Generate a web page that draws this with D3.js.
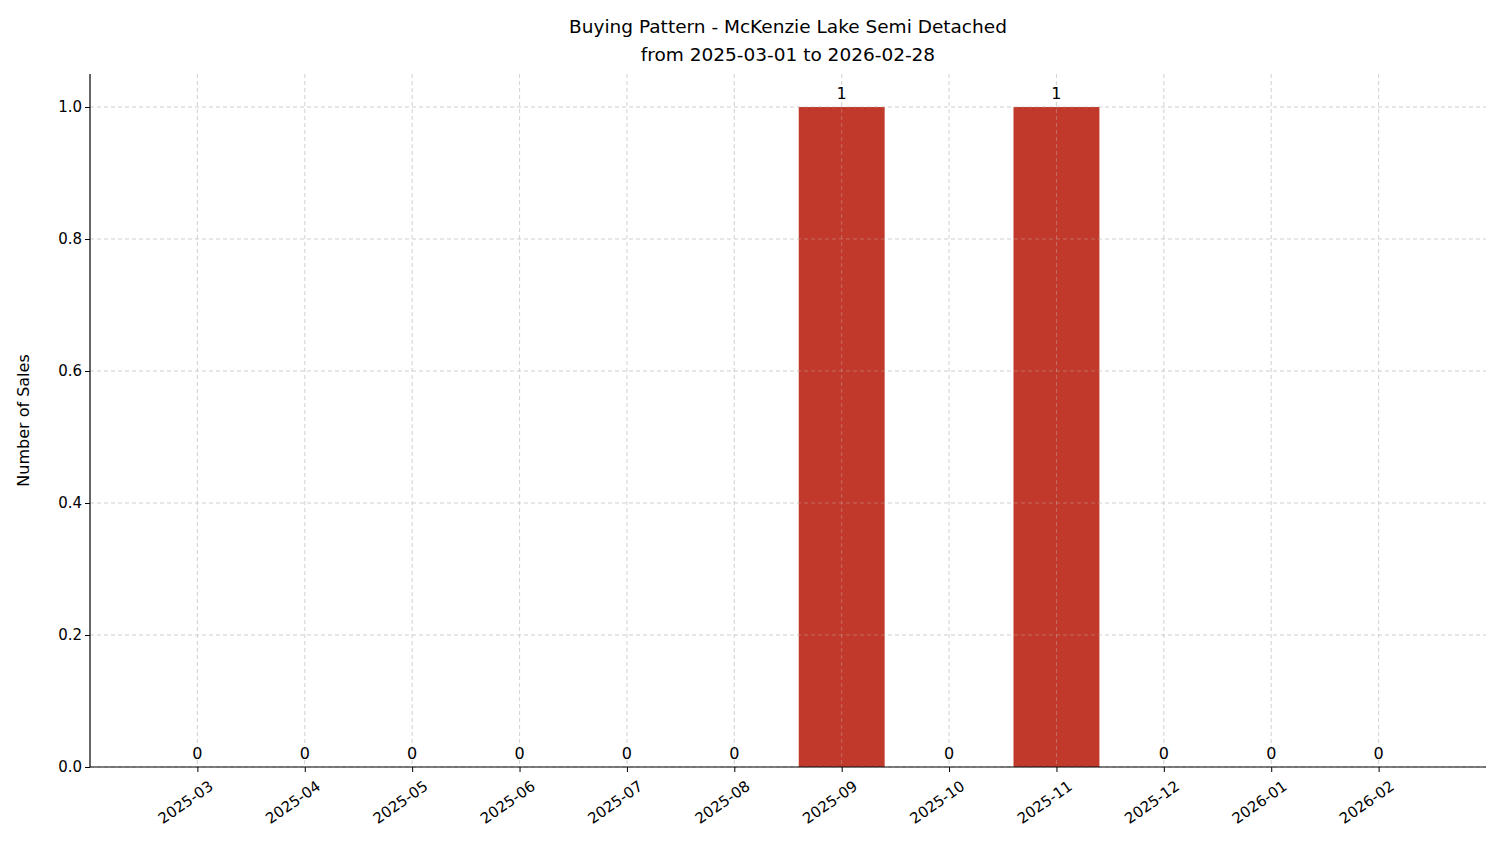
<!DOCTYPE html>
<html><head><meta charset="utf-8">
<script src="https://cdn.jsdelivr.net/npm/d3@7"></script>
<style>body{margin:0;background:#fff}text{font-family:"DejaVu Sans",sans-serif}</style>
</head><body><svg id="c" width="1501" height="863"></svg>
<script>
const months=["2025-03","2025-04","2025-05","2025-06","2025-07","2025-08","2025-09","2025-10","2025-11","2025-12","2026-01","2026-02"];
const sales=[0,0,0,0,0,0,1,0,1,0,0,0];
const yTicks=[0,0.2,0.4,0.6,0.8,1.0];
const svg=d3.select("#c");
const L=90,R=1486,T=74,B=767;
const x=d3.scaleLinear().domain([-1,months.length]).range([L,R]);
const y=d3.scaleLinear().domain([0,1.05]).range([B,T]);
const bw=(x(1)-x(0))*0.8;
const g=svg.append("g");
// grid
g.selectAll(".gx").data(months).join("line").attr("x1",(d,i)=>x(i)).attr("x2",(d,i)=>x(i)).attr("y1",T).attr("y2",B).attr("stroke","#ccc").attr("stroke-dasharray","4,3").attr("stroke-width",0.7);
g.selectAll(".gy").data(yTicks).join("line").attr("x1",L).attr("x2",R).attr("y1",d=>y(d)).attr("y2",d=>y(d)).attr("stroke","#ccc").attr("stroke-dasharray","4,3").attr("stroke-width",0.7);
g.selectAll("rect").data(sales).join("rect").attr("x",(d,i)=>x(i)-bw/2).attr("width",bw).attr("y",d=>y(d)).attr("height",d=>B-y(d)).attr("fill","#c0392b");
// redraw grid over bars like matplotlib? grid visible over bars in reference
g.selectAll(".gx2").data(months).join("line").attr("x1",(d,i)=>x(i)).attr("x2",(d,i)=>x(i)).attr("y1",T).attr("y2",B).attr("stroke","#ccc").attr("stroke-opacity",0.5).attr("stroke-dasharray","4,3").attr("stroke-width",0.7);
g.selectAll(".gy2").data(yTicks).join("line").attr("x1",L).attr("x2",R).attr("y1",d=>y(d)).attr("y2",d=>y(d)).attr("stroke","#ccc").attr("stroke-opacity",0.5).attr("stroke-dasharray","4,3").attr("stroke-width",0.7);
g.selectAll(".lab").data(sales).join("text").attr("x",(d,i)=>x(i)).attr("y",d=>y(d)-8).attr("text-anchor","middle").attr("font-size",16).text(d=>d);
// axes
const xa=svg.append("g").attr("transform",`translate(0,${B})`).call(d3.axisBottom(x).tickValues(d3.range(months.length)).tickFormat(i=>months[i]).tickSize(5).tickSizeOuter(0));
xa.select(".domain").attr("d",`M${L},0H${R}`);
xa.selectAll("text").attr("font-size",15).attr("text-anchor","end").attr("transform","translate(4,4) rotate(-35)").attr("dy","0.9em");
const ya=svg.append("g").attr("transform",`translate(${L},0)`).call(d3.axisLeft(y).tickValues(yTicks).tickFormat(d3.format(".1f")).tickSize(5).tickSizeOuter(0));
ya.select(".domain").attr("d",`M0,${T}V${B}`);
ya.selectAll("text").attr("font-size",15);
svg.selectAll(".domain").attr("stroke","#000").attr("stroke-width",1.2);
svg.append("text").attr("transform",`translate(29,${(T+B)/2}) rotate(-90)`).attr("text-anchor","middle").attr("font-size",16).text("Number of Sales");
svg.append("text").attr("x",788).attr("y",33).attr("text-anchor","middle").attr("font-size",18.5).text("Buying Pattern - McKenzie Lake Semi Detached");
svg.append("text").attr("x",788).attr("y",61).attr("text-anchor","middle").attr("font-size",18.5).text("from 2025-03-01 to 2026-02-28");
</script></body></html>
